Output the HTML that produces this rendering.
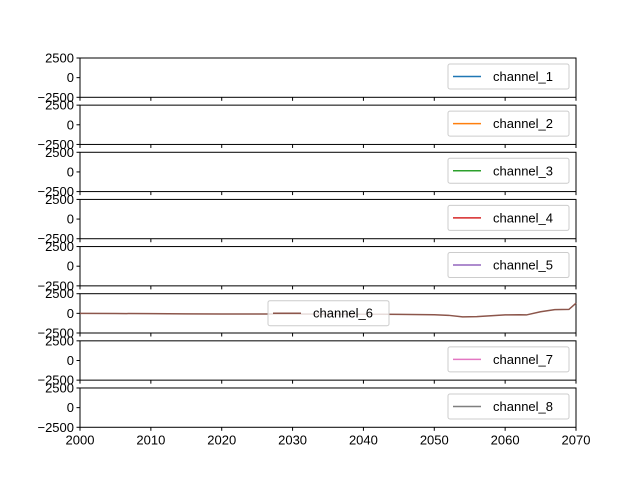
<!DOCTYPE html>
<html><head><meta charset="utf-8"><style>
body{margin:0;background:#fff}
text{font-family:"Liberation Sans","DejaVu Sans",sans-serif;font-size:13px;fill:#000}
</style></head><body>
<svg id="c" width="640" height="480" xmlns="http://www.w3.org/2000/svg"></svg>
<script>
const channels=["channel_1","channel_2","channel_3","channel_4","channel_5","channel_6","channel_7","channel_8"];
const colors=["#1f77b4","#ff7f0e","#2ca02c","#d62728","#9467bd","#8c564b","#e377c2","#7f7f7f"];
const years6=[2000,2005,2010,2015,2020,2025,2030,2035,2040,2045,2050,2052,2054,2056,2058,2060,2062,2063,2065,2067,2069,2070];
const vals6=[0,-20,-40,-60,-80,-90,-90,-100,-110,-130,-180,-250,-450,-420,-300,-200,-180,-200,200,480,500,1300];
const xTicks=[2000,2010,2020,2030,2040,2050,2060,2070];
const yTicks=[2500,0,-2500];
const NS="http://www.w3.org/2000/svg",svg=document.getElementById('c');
const L=80,R=576,T0=58,STEP=47.14,H=39.3;
const xs=v=>L+(v-2000)/70*(R-L);
function mk(t,a,p){const e=document.createElementNS(NS,t);for(const k in a)e.setAttribute(k,a[k]);(p||svg).appendChild(e);return e;}
channels.forEach((ch,i)=>{
  const top=T0+i*STEP,ys=v=>top+H/2-v/2500*(H/2);
  const g=mk('g',{});
  
  
  mk('rect',{x:L,y:top,width:R-L,height:H,fill:'#fff',stroke:'#000','stroke-width':1},g);
  yTicks.forEach(t=>{const y=ys(t);
    mk('line',{x1:L-3.5,x2:L,y1:y,y2:y,stroke:'#000'},g);
    const tx=mk('text',{x:L-6,y:y+4.5,'text-anchor':'end'},g);tx.textContent=t.toString().replace('-','\u2212');
    
    
  });
  xTicks.forEach(t=>{const x=xs(t);mk('line',{x1:x,x2:x,y1:top+H,y2:top+H+3.5,stroke:'#000'},g);
    if(i===7){const tx=mk('text',{x:x,y:top+H+17,'text-anchor':'middle'},g);tx.textContent=t;
      
      }
  });
  if(i===5){
    const pts=years6.map((y,k)=>xs(y)+','+ys(vals6[k])).join(' ');
    const pl=mk('polyline',{points:pts,fill:'none',stroke:colors[i],'stroke-width':1.5},g);
    
    
  }
  const lx=i===5?268:448,ly=top+(i===5?7:6),lw=i===5?121:121;
  const lg=mk('g',{},g);
  
  
  mk('rect',{x:lx,y:ly,width:lw,height:25,rx:2,fill:'#fff','fill-opacity':0.8,stroke:'#ccc'},lg);
  mk('line',{x1:lx+5,x2:lx+33,y1:ly+12.5,y2:ly+12.5,stroke:colors[i],'stroke-width':1.5},lg);
  const lt=mk('text',{x:lx+45,y:ly+17},lg);lt.textContent=ch;
});
</script>
</body></html>
